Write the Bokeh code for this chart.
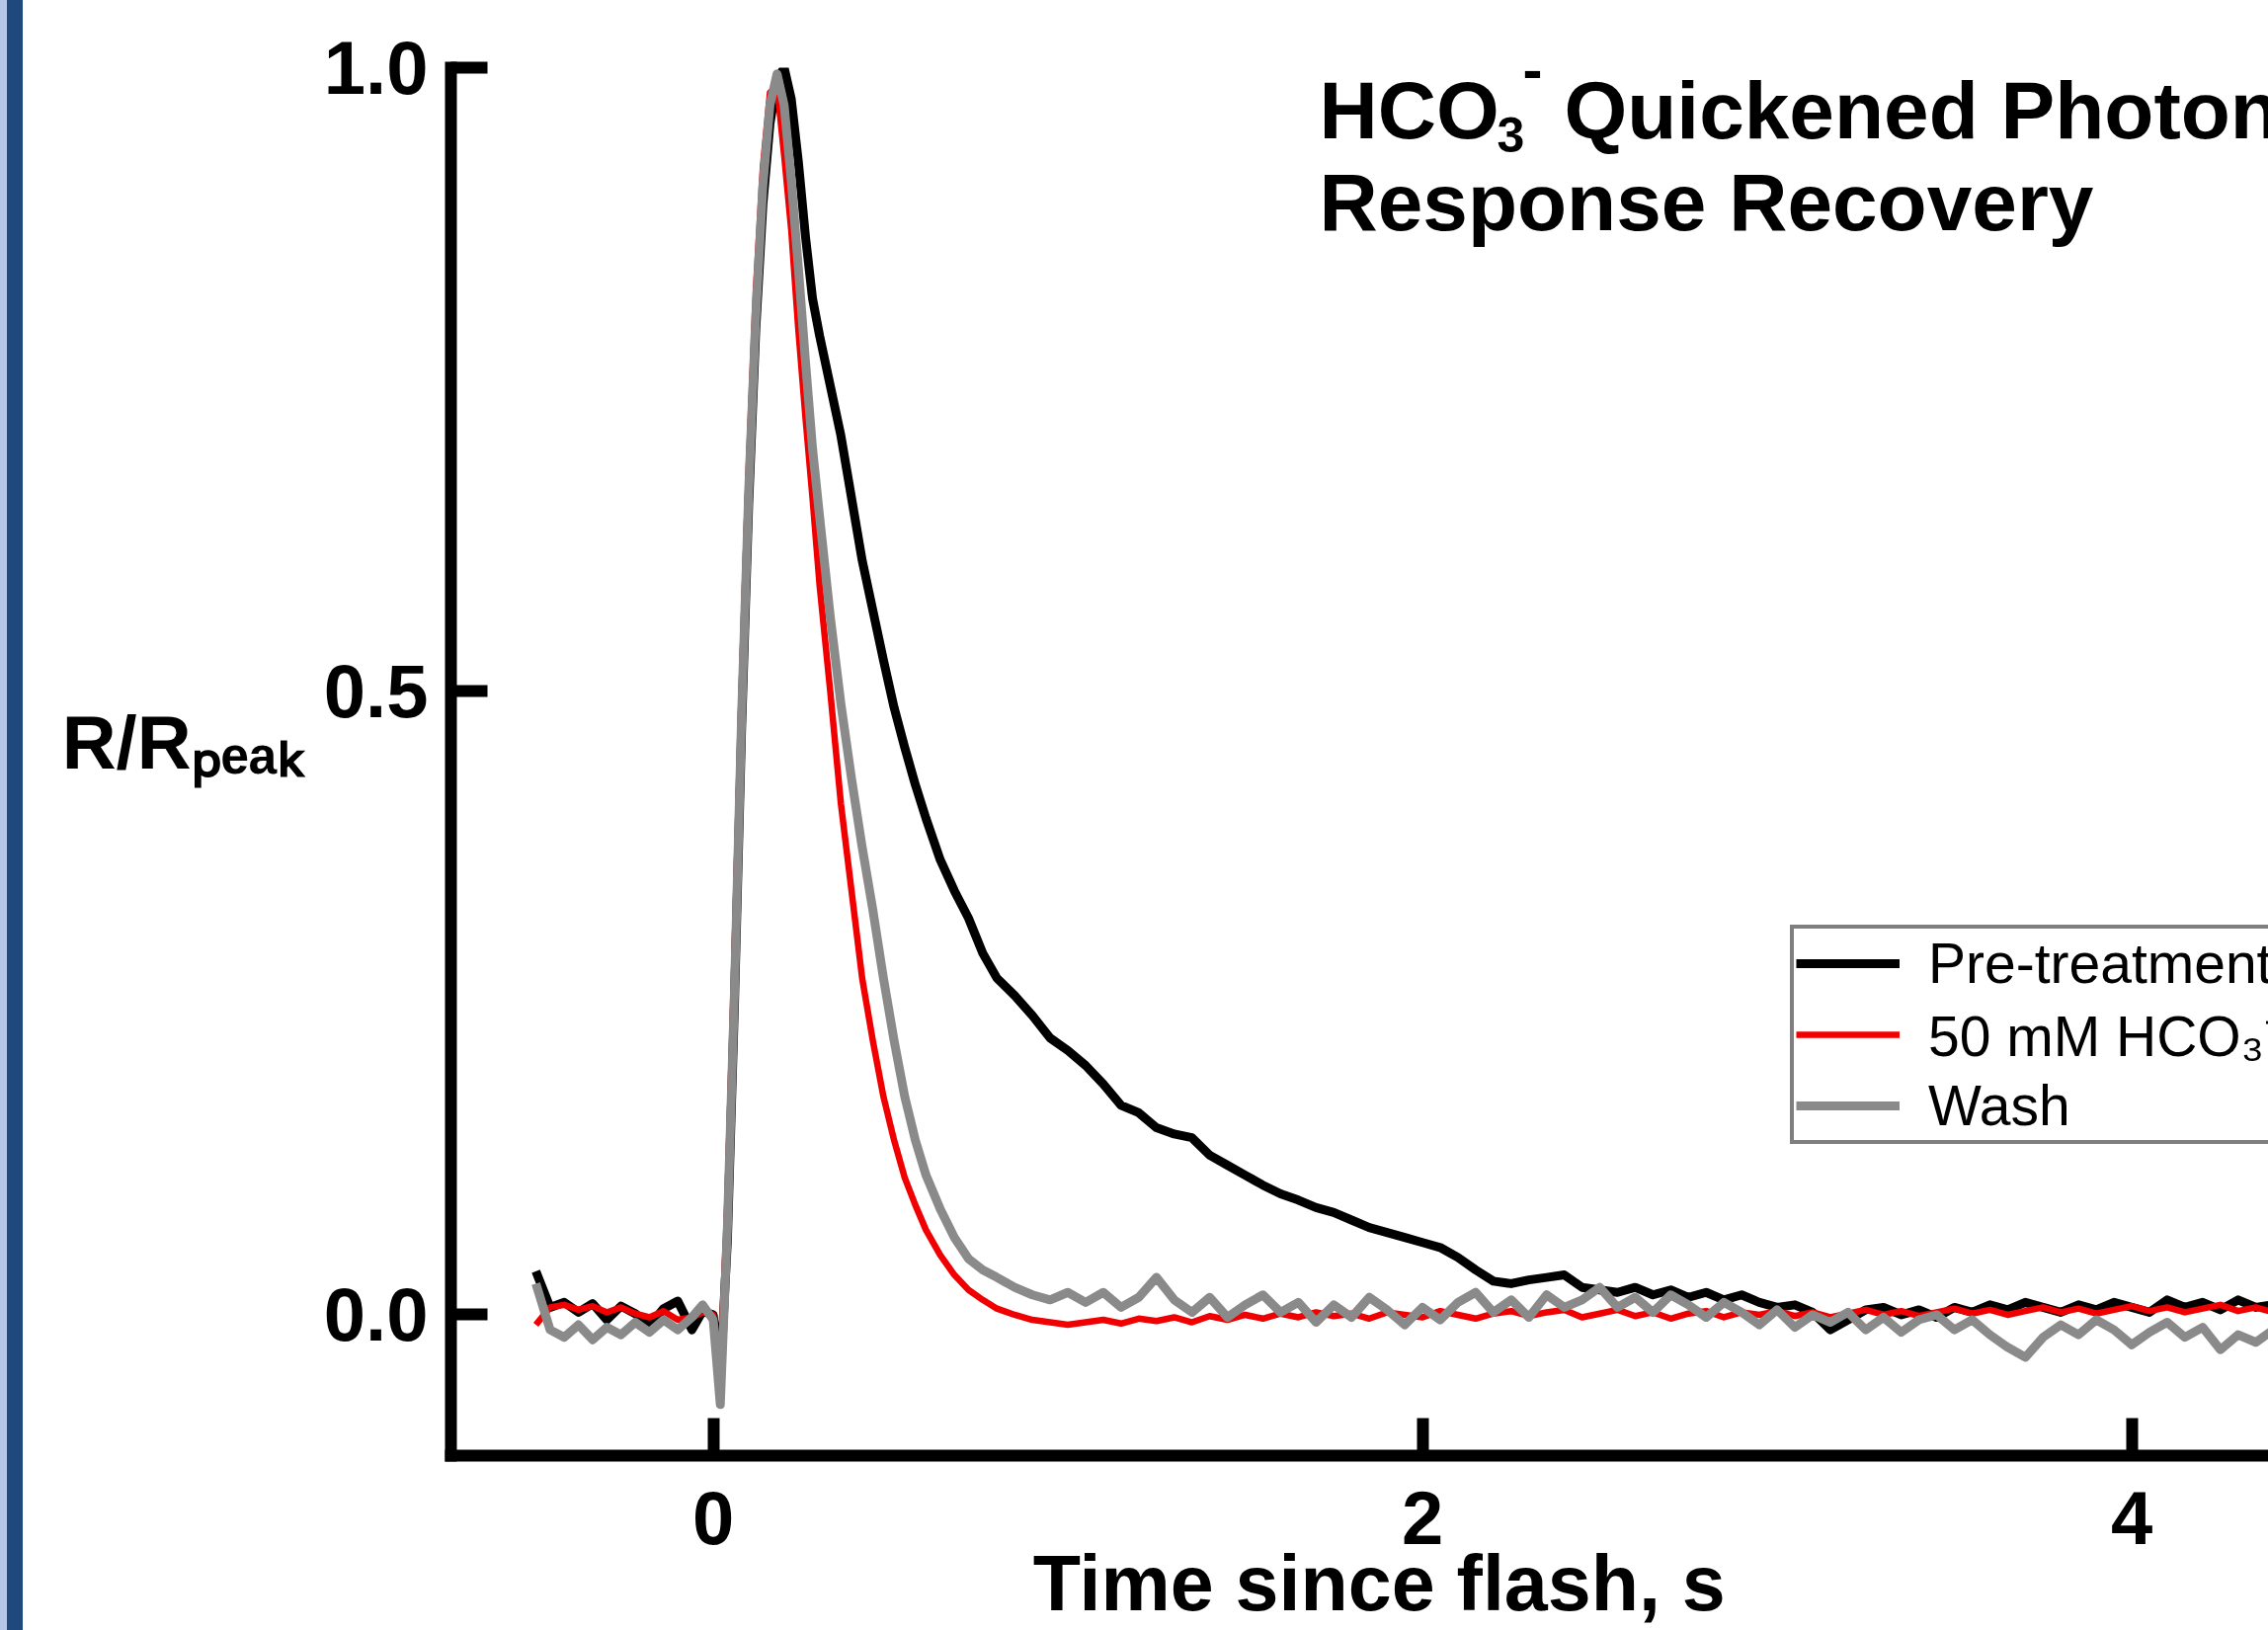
from bokeh.plotting import figure
from bokeh.models import Range1d, FixedTicker, Label, Legend, LegendItem
from bokeh.embed import file_html
from bokeh.resources import INLINE

# ---------------- data ----------------
time_s = [
    -0.50, -0.46, -0.42, -0.38, -0.34, -0.30, -0.26, -0.22, -0.18, -0.14, -0.10, -0.06, -0.03, 0.00,
    0.02, 0.04, 0.06, 0.08, 0.10, 0.12, 0.14, 0.16, 0.18, 0.20, 0.22, 0.24, 0.26, 0.28, 0.30,
    0.33, 0.36, 0.39, 0.42, 0.45, 0.48, 0.51, 0.54, 0.57, 0.60, 0.64, 0.68, 0.72, 0.76, 0.80, 0.85, 0.90, 0.95, 1.00,
    1.05, 1.10, 1.15, 1.20, 1.25, 1.30, 1.35, 1.40, 1.45, 1.50,
    1.55, 1.60, 1.65, 1.70, 1.75, 1.80, 1.85, 1.90, 1.95, 2.00,
    2.05, 2.10, 2.15, 2.20, 2.25, 2.30, 2.35, 2.40, 2.45, 2.50,
    2.55, 2.60, 2.65, 2.70, 2.75, 2.80, 2.85, 2.90, 2.95, 3.00,
    3.05, 3.10, 3.15, 3.20, 3.25, 3.30, 3.35, 3.40, 3.45, 3.50,
    3.55, 3.60, 3.65, 3.70, 3.75, 3.80, 3.85, 3.90, 3.95, 4.00,
    4.05, 4.10, 4.15, 4.20, 4.25, 4.30, 4.35, 4.40,
]

pre_treatment = [
    0.035, 0.006, 0.010, 0.002, 0.009, -0.004, 0.007, 0.001, -0.009, 0.005, 0.011, -0.012, 0.003, 0.000,
    -0.050, 0.060, 0.250, 0.470, 0.650, 0.790, 0.890, 0.955, 0.990, 1.000, 0.975, 0.925, 0.865, 0.815, 0.785,
    0.745, 0.705, 0.655, 0.605, 0.565, 0.525, 0.487, 0.455, 0.425, 0.398, 0.365, 0.340, 0.318, 0.290, 0.270, 0.256, 0.240, 0.222, 0.212,
    0.200, 0.185, 0.168, 0.162, 0.150, 0.145, 0.142, 0.128, 0.120, 0.112,
    0.104, 0.097, 0.092, 0.086, 0.082, 0.076, 0.070, 0.066, 0.062, 0.058,
    0.054, 0.046, 0.036, 0.027, 0.025, 0.028, 0.030, 0.032, 0.022, 0.020,
    0.018, 0.022, 0.016, 0.020, 0.014, 0.018, 0.012, 0.016, 0.010, 0.006,
    0.008, 0.002, -0.012, -0.004, 0.004, 0.006, 0.000, 0.004, -0.002, 0.006,
    0.002, 0.008, 0.004, 0.010, 0.006, 0.002, 0.008, 0.004, 0.010, 0.006,
    0.002, 0.012, 0.006, 0.010, 0.004, 0.012, 0.006, 0.008,
]

bicarbonate_50mM = [
    -0.008, 0.006, 0.008, 0.004, 0.007, 0.002, 0.006, 0.001, -0.002, 0.003, -0.004, -0.002, 0.002, 0.000,
    -0.045, 0.090, 0.290, 0.500, 0.680, 0.820, 0.920, 0.980, 0.985, 0.930, 0.870, 0.790, 0.720, 0.655, 0.585,
    0.500, 0.410, 0.340, 0.270, 0.220, 0.175, 0.140, 0.110, 0.088, 0.068, 0.048, 0.032, 0.020, 0.012, 0.005, 0.000, -0.004, -0.006, -0.008,
    -0.006, -0.004, -0.007, -0.003, -0.005, -0.002, -0.006, -0.001, -0.004, 0.000,
    -0.003, 0.001, -0.002, 0.002, -0.001, 0.001, -0.003, 0.002, 0.000, -0.002,
    0.003, 0.000, -0.003, 0.001, 0.003, -0.001, 0.002, 0.004, -0.002, 0.001,
    0.004, -0.001, 0.002, -0.003, 0.001, 0.003, -0.002, 0.002, 0.000, 0.003,
    -0.001, 0.002, -0.002, 0.001, 0.004, 0.000, 0.003, -0.001, 0.002, 0.005,
    0.001, 0.004, 0.000, 0.003, 0.006, 0.002, 0.005, 0.001, 0.004, 0.007,
    0.003, 0.006, 0.002, 0.005, 0.008, 0.003, 0.006, 0.002,
]

wash = [
    0.025, -0.012, -0.018, -0.008, -0.020, -0.010, -0.016, -0.006, -0.014, -0.004, -0.012, -0.002, 0.008, -0.004,
    -0.072, 0.070, 0.260, 0.480, 0.660, 0.800, 0.905, 0.970, 0.995, 0.970, 0.910, 0.840, 0.765, 0.695, 0.640,
    0.560, 0.490, 0.430, 0.375, 0.325, 0.270, 0.220, 0.175, 0.140, 0.112, 0.085, 0.062, 0.045, 0.036, 0.030, 0.022, 0.016, 0.012, 0.018,
    0.010, 0.018, 0.006, 0.014, 0.030, 0.012, 0.002, 0.014, -0.002, 0.008,
    0.016, 0.002, 0.010, -0.006, 0.008, -0.002, 0.014, 0.004, -0.008, 0.006,
    -0.004, 0.010, 0.018, 0.002, 0.012, -0.002, 0.016, 0.006, 0.012, 0.022,
    0.006, 0.014, 0.002, 0.016, 0.008, -0.002, 0.010, 0.002, -0.008, 0.004,
    -0.010, 0.000, -0.006, 0.002, -0.012, -0.002, -0.014, -0.004, 0.000, -0.012,
    -0.004, -0.016, -0.026, -0.034, -0.018, -0.008, -0.016, -0.004, -0.012, -0.024,
    -0.014, -0.006, -0.018, -0.010, -0.028, -0.016, -0.022, -0.012,
]

series_names = ["Pre-treatment", "50 mM HCO\u2083\u207b", "Wash"]
series_colors = ["#000000", "#f00000", "#8a8a8a"]

x_ticks = [0, 2, 4]
x_tick_labels = ["0", "2", "4"]
y_ticks = [0.0, 0.5, 1.0]
y_tick_labels = ["0.0", "0.5", "1.0"]

assert len(time_s) == len(pre_treatment) == len(bicarbonate_50mM) == len(wash)

# ---------------- figure ----------------
FONT = "Liberation Sans"
W, H = 2296, 1650
LEFT, TOP, BOTTOM = 456, 68, 177
FB = H - BOTTOM  # frame bottom (px from top)

p = figure(width=W, height=H, output_backend="svg", toolbar_location=None,
           x_range=Range1d(-0.7396, 4.3857), y_range=Range1d(-0.1129, 1.0),
           min_border_left=LEFT, min_border_right=0, min_border_top=TOP,
           min_border_bottom=BOTTOM, background_fill_color="white",
           border_fill_color=None)
p.outline_line_color = None
p.grid.visible = False
# decorative blue strip along the left edge (as in the reference slide)
p.styles = {"background": "linear-gradient(to right, #b4c7e7 0px, #b4c7e7 7px, "
                          "#1f497d 7px, #1f497d 23px, #ffffff 23px, #ffffff 100%)"}

for ax, ticks, labels in ((p.xaxis, x_ticks, x_tick_labels), (p.yaxis, y_ticks, y_tick_labels)):
    ax.ticker = FixedTicker(ticks=ticks, minor_ticks=[])
    ax.major_label_overrides = {t: l for t, l in zip(ticks, labels)}
    ax.axis_line_width = 12
    ax.axis_line_color = "black"
    ax.axis_line_cap = "square"
    ax.major_tick_line_width = 12
    ax.major_tick_line_color = "black"
    ax.major_tick_out = 0
    ax.minor_tick_line_color = None
    ax.major_label_text_font = FONT
    ax.major_label_text_font_style = "bold"
    ax.major_label_text_font_size = "76px"
    ax.major_label_text_color = "black"
    ax.axis_label_text_font = FONT
    ax.axis_label_text_font_style = "bold"
    ax.axis_label_text_color = "black"

p.xaxis.major_tick_in = 38
p.xaxis.major_label_standoff = 36
p.xaxis.axis_label = "\u2002Time since flash, s"
p.xaxis.axis_label_text_font_size = "79px"
p.xaxis.axis_label_standoff = -8

p.yaxis.major_tick_in = 37
p.yaxis.major_label_standoff = 23
# trailing empty line with a tight line height lifts the label a little,
# matching its position in the reference
p.yaxis.axis_label = "R/R\u209a\u2091\u2090\u2096\n"
p.yaxis.axis_label_text_line_height = 0.45
p.yaxis.axis_label_text_font_size = "76px"
p.yaxis.axis_label_orientation = "horizontal"
p.yaxis.axis_label_standoff = 18

renderers = []
for ys, col, lw in ((pre_treatment, series_colors[0], 9.0),
                    (bicarbonate_50mM, series_colors[1], 6.5),
                    (wash, series_colors[2], 9.0)):
    renderers.append(p.line(time_s, ys, line_color=col, line_width=lw, line_join="round"))


def lab(text, fx, fbase, size_px, bold=True, align="left"):
    """fx: left x on canvas; fbase: wanted baseline y on canvas (px from top)."""
    mid = fbase - 0.3465 * size_px
    p.add_layout(Label(x=fx - LEFT, y=FB - mid, x_units="screen", y_units="screen",
                       text=text, text_font=FONT, text_font_size=f"{size_px}px",
                       text_font_style="bold" if bold else "normal",
                       text_color="black", text_align=align, text_baseline="middle"))


# title (inside the frame)
lab("HCO", 1335, 139, 82)
lab("3", 1515, 153, 50)
lab("-", 1541, 91, 60)
lab("Quickened Photon", 1583, 139, 82)
lab("Response Recovery", 1335, 232, 82)

legend = Legend(items=[LegendItem(label=n, renderers=[r]) for n, r in zip(series_names, renderers)],
                location=(1812 - LEFT, FB - 1158), orientation="vertical",
                label_text_font=FONT, label_text_font_size="57px", label_text_color="black",
                glyph_width=105, glyph_height=40, label_height=40, label_standoff=29,
                padding=2, spacing=0, margin=0,
                border_line_color="black", border_line_width=4,
                background_fill_color="white", background_fill_alpha=1.0)
p.add_layout(legend)

open("out.html", "w").write(file_html(p, INLINE))
